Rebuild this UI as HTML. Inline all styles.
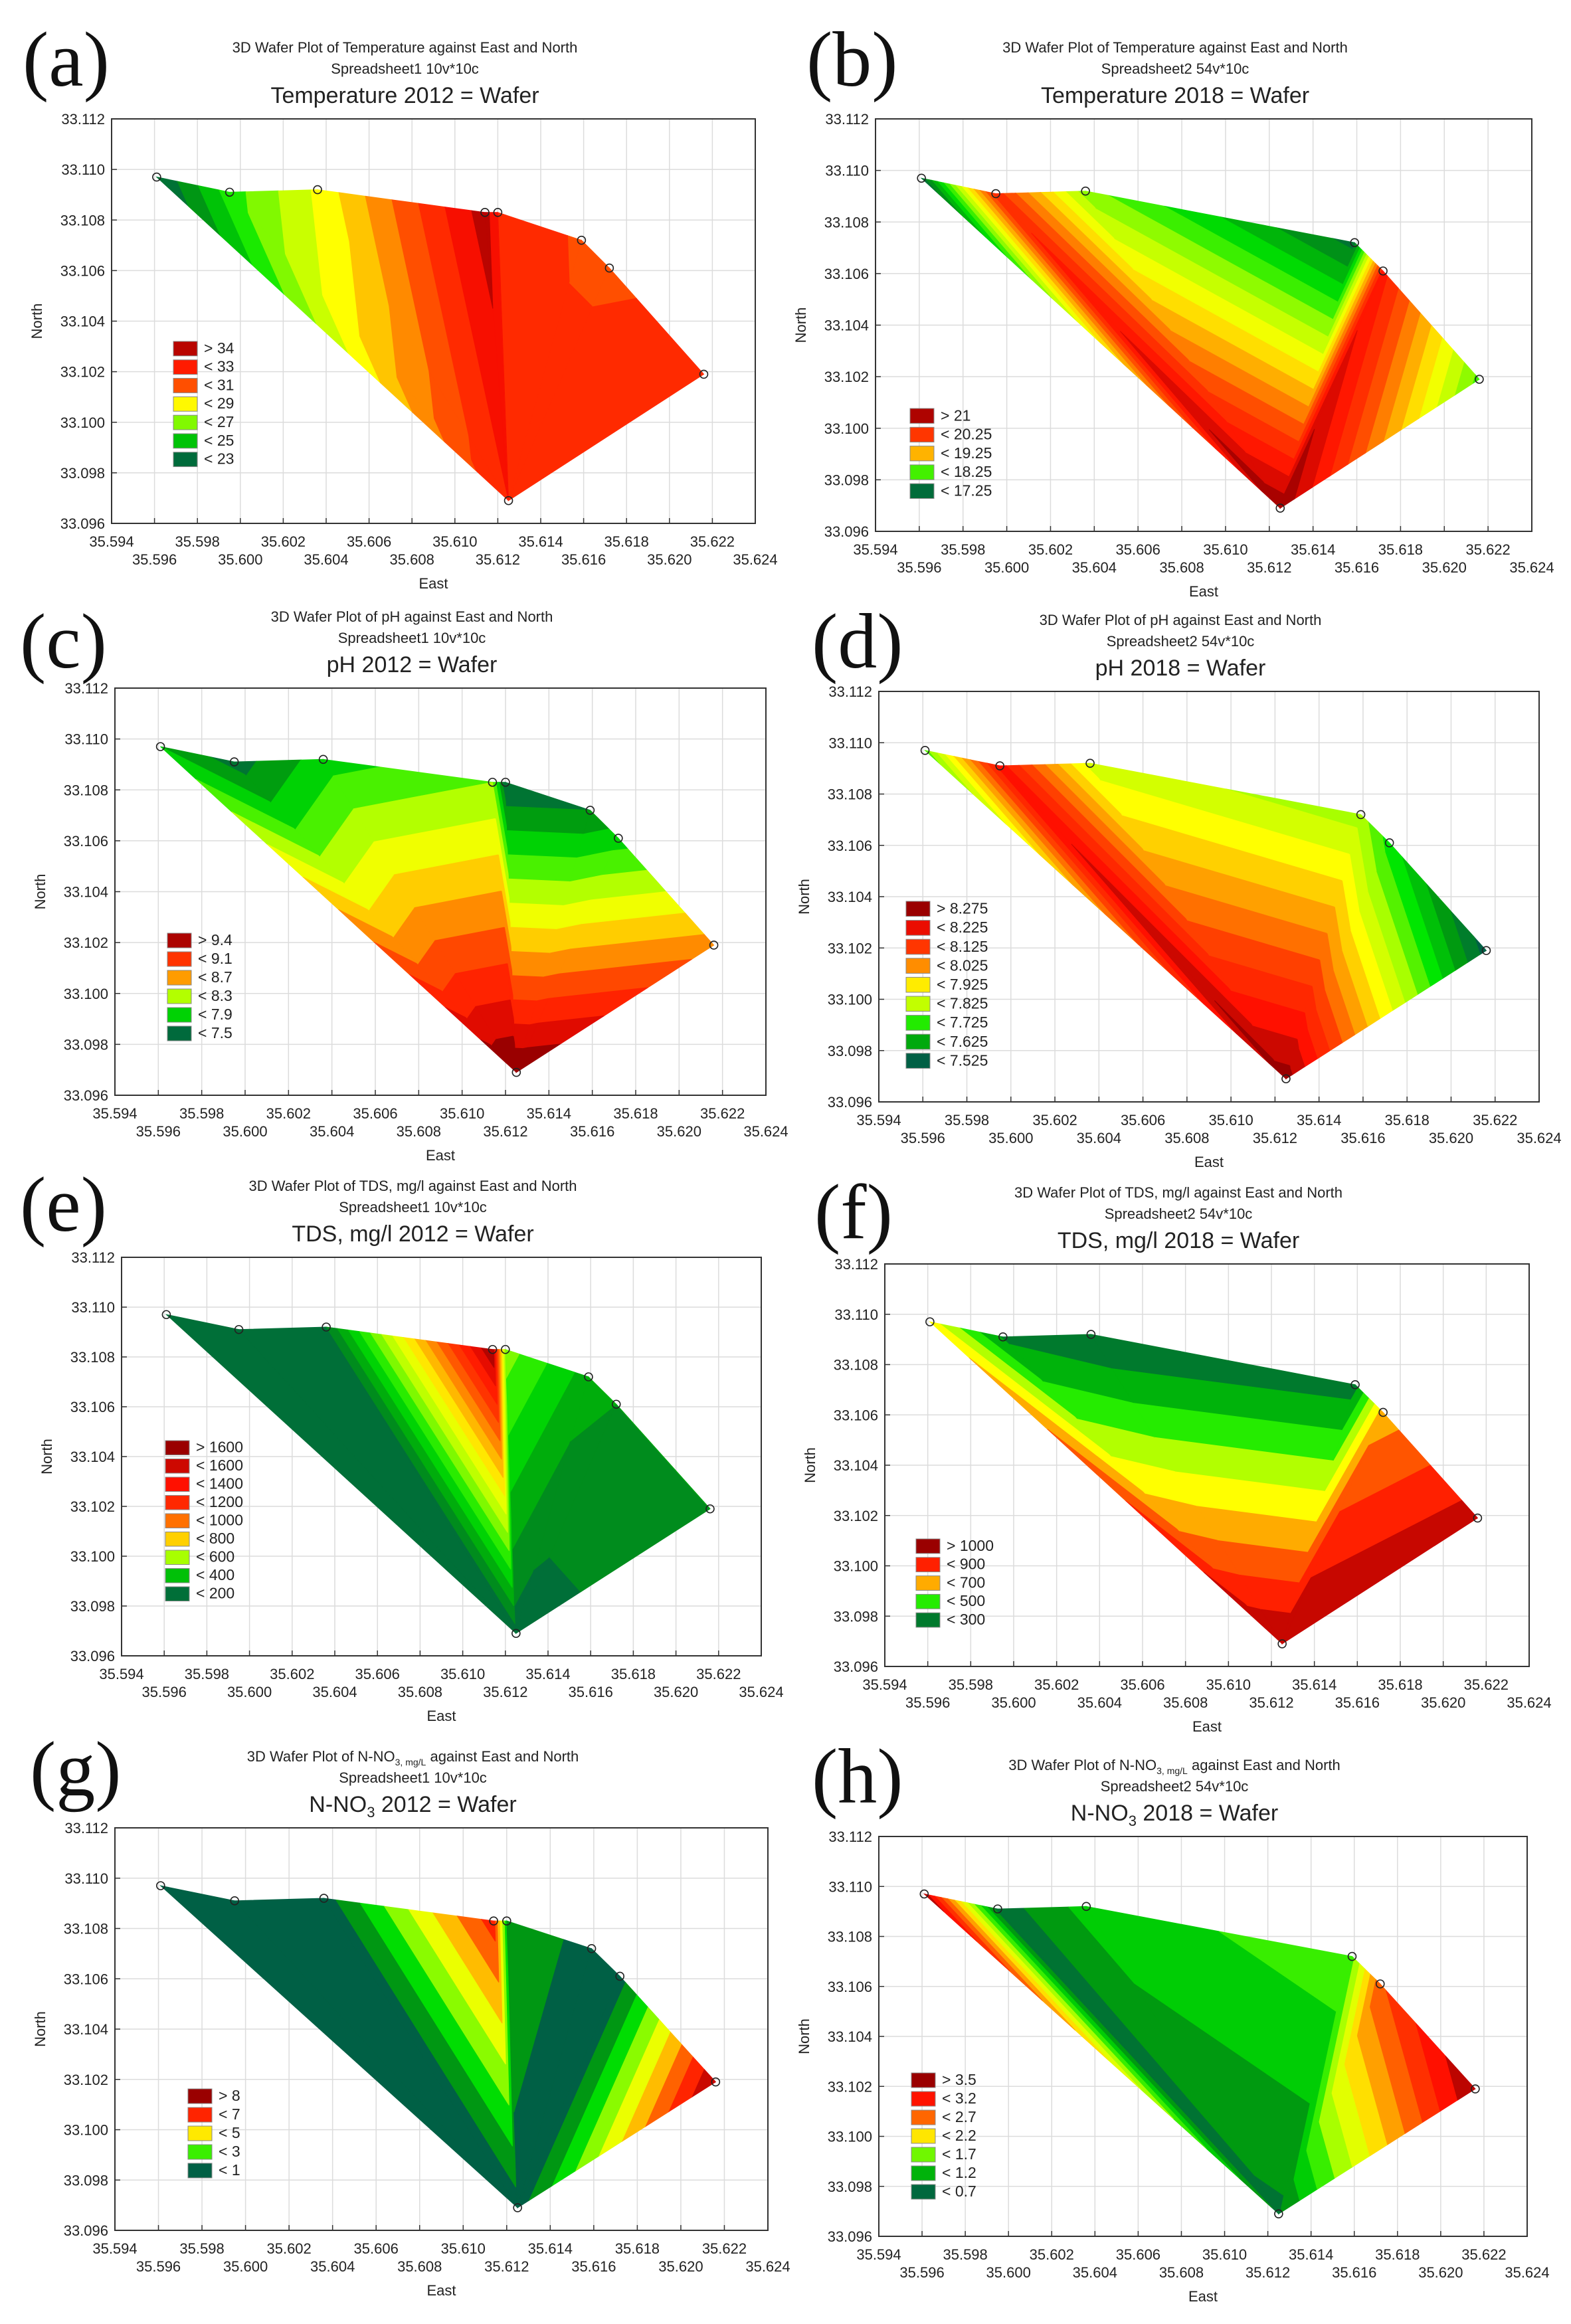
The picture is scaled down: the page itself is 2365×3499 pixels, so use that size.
<!DOCTYPE html>
<html><head><meta charset="utf-8">
<style>
html,body{margin:0;padding:0;background:#fff;}
svg{display:block;}
text{font-family:"Liberation Sans",sans-serif;fill:#222;}
.pl{font-family:"Liberation Serif",serif;fill:#111;}
</style></head>
<body>
<svg id="fig" xmlns="http://www.w3.org/2000/svg" width="2365" height="3499" viewBox="0 0 2365 3499">
<rect width="2365" height="3499" fill="#fff"/>
</svg>
<script>
// sample locations (East, North)
const eastPts=[35.5961,35.5995,35.6036,35.6114,35.6120,35.6159,35.6172,35.6216,35.6125];
const northPts=[33.1097,33.1091,33.1092,33.1083,33.1083,33.1072,33.1061,33.1019,33.0969];
const hull2012=[0,1,2,3,4,5,6,7];
const hull2018=[0,1,2,5,6,7];
const xTicks=[35.594,35.596,35.598,35.600,35.602,35.604,35.606,35.608,35.610,35.612,35.614,35.616,35.618,35.620,35.622,35.624];
const yTicks=[33.096,33.098,33.100,33.102,33.104,33.106,33.108,33.110,33.112];
// values at sample points per panel (null = not sampled)
const valsA=[22,25.5,28.2,34.5,33,31.8,31.8,32.5,33];
const valsB=[17.3,20.4,18.6,null,null,17.4,20.6,18.4,21.2];
const valsC=[7.7,7.4,7.8,8.1,7.3,7.5,7.8,8.8,9.7];
const valsD=[7.75,8.2,7.85,null,null,7.8,7.7,7.5,8.3];
const valsE=[150,150,200,1700,650,350,300,300,150];
const valsF=[650,280,200,null,null,250,750,1050,1100];
const valsG=[0.5,0.5,0.5,7.5,2.0,0.5,0.5,9,0.5];
const valsH=[3.6,0.8,1.3,null,null,1.6,2.9,3.7,0.9];
// legend labels & representative values
const legA=['> 34','< 33','< 31','< 29','< 27','< 25','< 23'];
const legAv=[34.5,33,31.5,28.6,26.5,24.5,22.3];
const legB=['> 21','< 20.25','< 19.25','< 18.25','< 17.25'];
const legBv=[21.1,20.3,19.6,18.4,17.3];
const legC=['> 9.4','< 9.1','< 8.7','< 8.3','< 7.9','< 7.5'];
const legCv=[9.55,9.1,8.75,8.2,7.8,7.35];
const legD=['> 8.275','< 8.225','< 8.125','< 8.025','< 7.925','< 7.825','< 7.725','< 7.625','< 7.525'];
const legDv=[8.3,8.22,8.12,8.02,7.92,7.83,7.72,7.62,7.5];
const legE=['> 1600','< 1600','< 1400','< 1200','< 1000','< 800','< 600','< 400','< 200'];
const legEv=[1700,1600,1500,1400,1200,1000,700,400,150];
const legF=['> 1000','< 900','< 700','< 500','< 300'];
const legFv=[1100,950,750,450,250];
const legG=['> 8','< 7','< 5','< 3','< 1'];
const legGv=[9,7.5,5,3,0.5];
const legH=['> 3.5','< 3.2','< 2.7','< 2.2','< 1.7','< 1.2','< 0.7'];
const legHv=[3.7,3.3,2.8,2.3,1.7,1.2,0.75];

const palette=['#006045','#009a10','#00e600','#a8ff00','#ffff00','#ffa000','#ff4000','#ff1000','#9a0000'];
const NS='http://www.w3.org/2000/svg';
const svg=document.getElementById('fig');
function mk(tag,attrs,parent){const e=document.createElementNS(NS,tag);for(const k in attrs)e.setAttribute(k,attrs[k]);(parent||svg).appendChild(e);return e;}
function hex(c){return [parseInt(c.slice(1,3),16),parseInt(c.slice(3,5),16),parseInt(c.slice(5,7),16)];}
function colorAt(v,lo,hi){let t=(v-lo)/(hi-lo);t=Math.max(0,Math.min(1,t));const s=t*(palette.length-1);const i=Math.min(palette.length-2,Math.floor(s));const f=s-i;const a=hex(palette[i]),b=hex(palette[i+1]);return 'rgb('+a.map((x,k)=>Math.round(x+(b[k]-x)*f)).join(',')+')';}
function clip(poly,lv,above){const out=[];const n=poly.length;for(let i=0;i<n;i++){const a=poly[i],b=poly[(i+1)%n];const ia=above?a.v>=lv:a.v<=lv;const ib=above?b.v>=lv:b.v<=lv;if(ia)out.push(a);if(ia!==ib){const t=(lv-a.v)/(b.v-a.v);out.push({x:a.x+t*(b.x-a.x),y:a.y+t*(b.y-a.y),v:lv});}}return out;}

const panels=[
 {id:'a',box:[168,179,1137,788],lab:[34,129],t1:'3D Wafer Plot of Temperature against East and North',t2:'Spreadsheet1 10v*10c',t3:'Temperature 2012 = Wafer',vals:valsA,hull:hull2012,lo:22,hi:35,step:1,start:21,leg:legA,legv:legAv,lg:[93,335,27.8]},
 {id:'b',box:[1318,179,2306,800],lab:[1214,129],t1:'3D Wafer Plot of Temperature against East and North',t2:'Spreadsheet2 54v*10c',t3:'Temperature 2018 = Wafer',vals:valsB,hull:hull2018,lo:17.2,hi:21.2,step:0.25,start:17,leg:legB,legv:legBv,lg:[52,436,28.3]},
 {id:'c',box:[173,1036,1153,1649],lab:[30,1005],t1:'3D Wafer Plot of pH against East and North',t2:'Spreadsheet1 10v*10c',t3:'pH 2012 = Wafer',vals:valsC,hull:hull2012,lo:7.3,hi:9.6,step:0.2,start:7.1,leg:legC,legv:legCv,lg:[79,369,28]},
 {id:'d',box:[1323,1041,2317,1659],lab:[1222,1005],t1:'3D Wafer Plot of pH against East and North',t2:'Spreadsheet2 54v*10c',t3:'pH 2018 = Wafer',vals:valsD,hull:hull2018,lo:7.5,hi:8.3,step:0.05,start:7.425,leg:legD,legv:legDv,lg:[41,316,28.6]},
 {id:'e',box:[183,1893,1146,2493],lab:[30,1853],t1:'3D Wafer Plot of TDS, mg/l against East and North',t2:'Spreadsheet1 10v*10c',t3:'TDS, mg/l 2012 = Wafer',vals:valsE,hull:hull2012,lo:100,hi:1700,step:100,start:0,leg:legE,legv:legEv,lg:[66,276,27.5]},
 {id:'f',box:[1332,1903,2302,2509],lab:[1226,1864],t1:'3D Wafer Plot of TDS, mg/l against East and North',t2:'Spreadsheet2 54v*10c',t3:'TDS, mg/l 2018 = Wafer',vals:valsF,hull:hull2018,lo:200,hi:1100,step:100,start:100,leg:legF,legv:legFv,lg:[47,414,27.8]},
 {id:'g',box:[173,2752,1156,3358],lab:[45,2703],t1:'NO3a',t2:'Spreadsheet1 10v*10c',t3:'NO3b2012',vals:valsG,hull:hull2012,lo:0.5,hi:9,step:1,start:0,leg:legG,legv:legGv,lg:[110,393,28]},
 {id:'h',box:[1323,2765,2299,3367],lab:[1222,2714],t1:'NO3a',t2:'Spreadsheet2 54v*10c',t3:'NO3b2018',vals:valsH,hull:hull2018,lo:0.7,hi:3.7,step:0.25,start:0.45,leg:legH,legv:legHv,lg:[49,356,28]}
];

panels.forEach(P=>{
 const [x0,y0,x1,y1]=P.box;
 const g=mk('g',{});
 
 
 const X=e=>x0+(e-35.594)/0.030*(x1-x0);
 const Y=n=>y1-(n-33.096)/0.016*(y1-y0);
 const cx=(x0+x1)/2-43;
 const pl=mk('text',{x:P.lab[0],y:P.lab[1],'font-size':118,class:'pl'},g);
 pl.textContent='('+P.id+')';
 
 
 const t1=mk('text',{x:cx,y:y0-100,'font-size':22,'text-anchor':'middle'},g);
 
 
 if(P.t1==='NO3a'){t1.innerHTML='3D Wafer Plot of N-NO<tspan font-size="14" dy="6">3, mg/L</tspan><tspan dy="-6"> against East and North</tspan>';}
 else t1.textContent=P.t1;
 const t2=mk('text',{x:cx,y:y0-68,'font-size':22,'text-anchor':'middle'},g);
 t2.textContent=P.t2;
 
 
 const t3=mk('text',{x:cx,y:y0-24,'font-size':34,'text-anchor':'middle'},g);
 
 
 if(P.t3.startsWith('NO3b')){t3.innerHTML='N-NO<tspan font-size="22" dy="8">3</tspan><tspan dy="-8"> '+P.t3.slice(4)+' = Wafer</tspan>';}
 else t3.textContent=P.t3;
 xTicks.forEach(t=>{const l=mk('line',{x1:X(t),x2:X(t),y1:y0,y2:y1,stroke:'#dcdcdc','stroke-width':1.5},g);
  });
 yTicks.forEach(t=>{const l=mk('line',{x1:x0,x2:x1,y1:Y(t),y2:Y(t),stroke:'#dcdcdc','stroke-width':1.5},g);
  });
 const apex=8;
 const bands=mk('g',{},g);
 
 
 for(let i=0;i<P.hull.length-1;i++){
  const ids=[apex,P.hull[i],P.hull[i+1]];
  const tri=ids.map(k=>({x:X(eastPts[k]),y:Y(northPts[k]),v:P.vals[k]}));
  for(let lv=P.start;lv<P.hi+P.step*2;lv+=P.step){
   let poly=clip(tri,lv,true); if(poly.length<3)continue;
   poly=clip(poly,lv+P.step,false); if(poly.length<3)continue;
   const col=colorAt(lv+P.step/2,P.lo,P.hi);
   const pg=mk('polygon',{points:poly.map(p=>p.x.toFixed(1)+','+p.y.toFixed(1)).join(' '),fill:col,stroke:col,'stroke-width':1},bands);
   
   
  }
 }
 P.hull.concat([apex]).forEach(k=>{
  const c=mk('circle',{cx:X(eastPts[k]),cy:Y(northPts[k]),r:6,fill:'none',stroke:'#222','stroke-width':1.6},g);
  
  
 });
 const fr=mk('rect',{x:x0,y:y0,width:x1-x0,height:y1-y0,fill:'none',stroke:'#333','stroke-width':2},g);
 
 
 xTicks.forEach((t,i)=>{
  mk('line',{x1:X(t),x2:X(t),y1:y1,y2:y1-8,stroke:'#333','stroke-width':1.5},g);
  const tx=mk('text',{x:X(t),y:y1+(i%2===0?35:62),'font-size':22,'text-anchor':'middle'},g);
  tx.textContent=t.toFixed(3);
  
  
 });
 yTicks.forEach(t=>{
  mk('line',{x1:x0,x2:x0+8,y1:Y(t),y2:Y(t),stroke:'#333','stroke-width':1.5},g);
  const ty=mk('text',{x:x0-10,y:Y(t)+8,'font-size':22,'text-anchor':'end'},g);
  ty.textContent=t.toFixed(3);
  
  
 });
 const xt=mk('text',{x:(x0+x1)/2,y:y1+98,'font-size':22,'text-anchor':'middle'},g);
 xt.textContent='East';
 
 
 const yt=mk('text',{x:x0-105,y:(y0+y1)/2,'font-size':22,'text-anchor':'middle',transform:'rotate(-90 '+(x0-105)+' '+((y0+y1)/2)+')'},g);
 yt.textContent='North';
 
 
 const lgx=x0+P.lg[0], lgy=y0+P.lg[1], sp=P.lg[2];
 P.leg.forEach((lab,i)=>{
  const sw=mk('rect',{x:lgx,y:lgy+i*sp,width:36,height:sp-6,fill:colorAt(P.legv[i],P.lo,P.hi),stroke:'#888','stroke-width':1},g);
  
  
  const lt=mk('text',{x:lgx+46,y:lgy+i*sp+sp-10,'font-size':23},g);
  lt.textContent=lab;
  
  
 });
});
</script>
</body></html>
